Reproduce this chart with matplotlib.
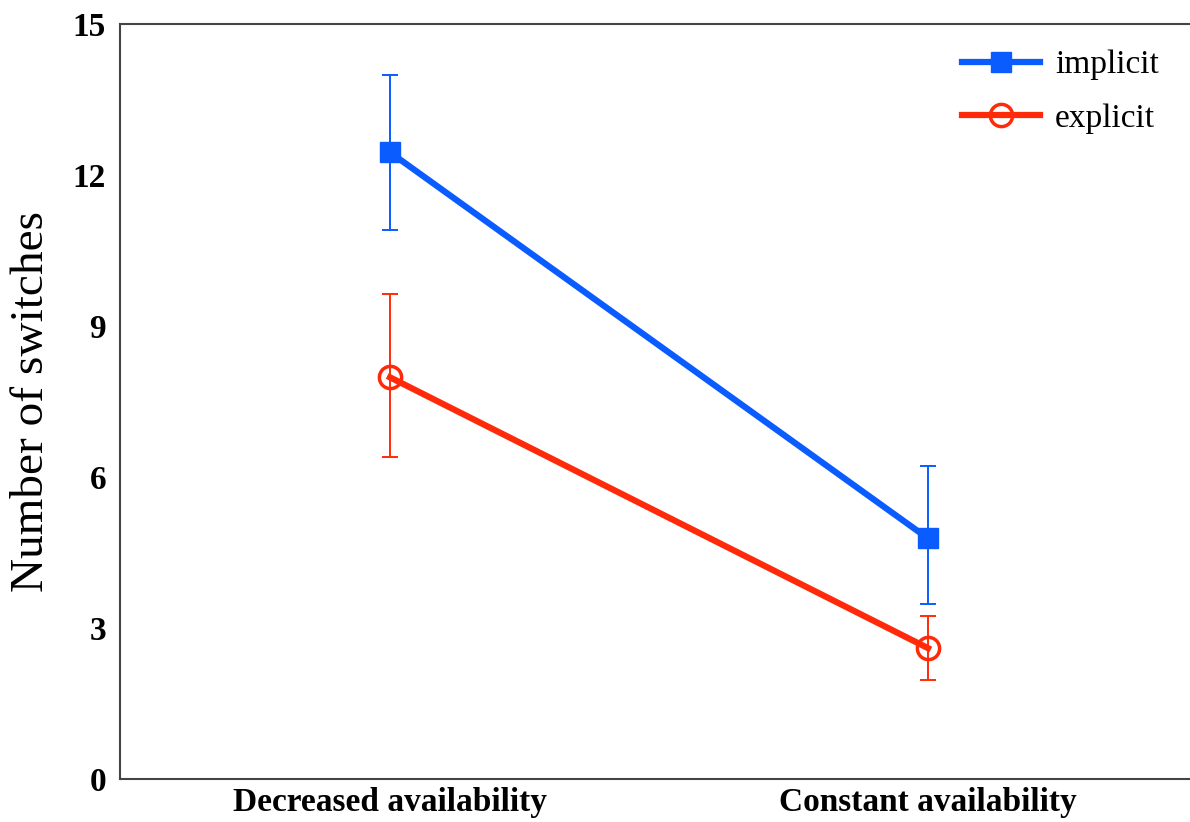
import matplotlib
matplotlib.use("Agg")
import matplotlib.pyplot as plt
from matplotlib.lines import Line2D

conditions = ["Decreased availability", "Constant availability"]
implicit_mean = [12.45, 4.78]
implicit_err_low = [1.55, 1.30]
implicit_err_high = [1.53, 1.44]
explicit_mean = [7.98, 2.60]
explicit_err_low = [1.58, 0.64]
explicit_err_high = [1.65, 0.63]
yticks = [0, 3, 6, 9, 12, 15]

BLUE = "#0a5cff"
RED = "#ff2a0a"

plt.rcParams["font.family"] = ["Liberation Serif", "DejaVu Serif"]

fig = plt.figure(figsize=(11.9, 8.22), dpi=100)
W, H = 1190, 822
ax = fig.add_axes([120 / W, (H - 779) / H, 1 - 120 / W, (779 - 24) / H])

x = list(range(len(conditions)))
ax.errorbar(x, implicit_mean, yerr=[implicit_err_low, implicit_err_high],
            fmt="none", ecolor=BLUE, elinewidth=1.4, capsize=6, capthick=1.4)
ax.errorbar(x, explicit_mean, yerr=[explicit_err_low, explicit_err_high],
            fmt="none", ecolor=RED, elinewidth=1.4, capsize=6, capthick=1.4)
ax.plot(x, implicit_mean, color=BLUE, lw=4.5, marker="s", ms=14,
        markeredgecolor=BLUE, label="implicit")
ax.plot(x, explicit_mean, color=RED, lw=4.5, marker="o", ms=16,
        markerfacecolor="none", markeredgewidth=2.5, markeredgecolor=RED,
        label="explicit")

ax.set_xlim(-0.502, 1.487)
ax.set_ylim(0, 15)
ax.set_yticks(yticks)
ax.set_xticks(x)
ax.set_xticklabels(conditions)
ax.tick_params(length=0, labelsize=24, pad=10)
ax.tick_params(axis="x", pad=6)
for lab in ax.get_xticklabels() + ax.get_yticklabels():
    lab.set_fontweight("bold")
ax.spines["right"].set_visible(False)
for s in ("left", "top", "bottom"):
    ax.spines[s].set_linewidth(1.5)
    ax.spines[s].set_color("#444444")
ax.set_ylabel("Number of switches", fontsize=34, labelpad=14)

handles = [
    Line2D([], [], color=BLUE, lw=4.5, marker="s", ms=14, markeredgecolor=BLUE),
    Line2D([], [], color=RED, lw=4.5, marker="o", ms=16, markerfacecolor="none",
           markeredgewidth=2.5, markeredgecolor=RED),
]
fig.legend(handles, ["implicit", "explicit"], loc="upper left",
           bbox_to_anchor=(932 / W, 1 - 20 / H), frameon=False, fontsize=24,
           handlelength=2.34, labelspacing=0.69, handletextpad=0.45)

fig.savefig("out.png", dpi=100)
